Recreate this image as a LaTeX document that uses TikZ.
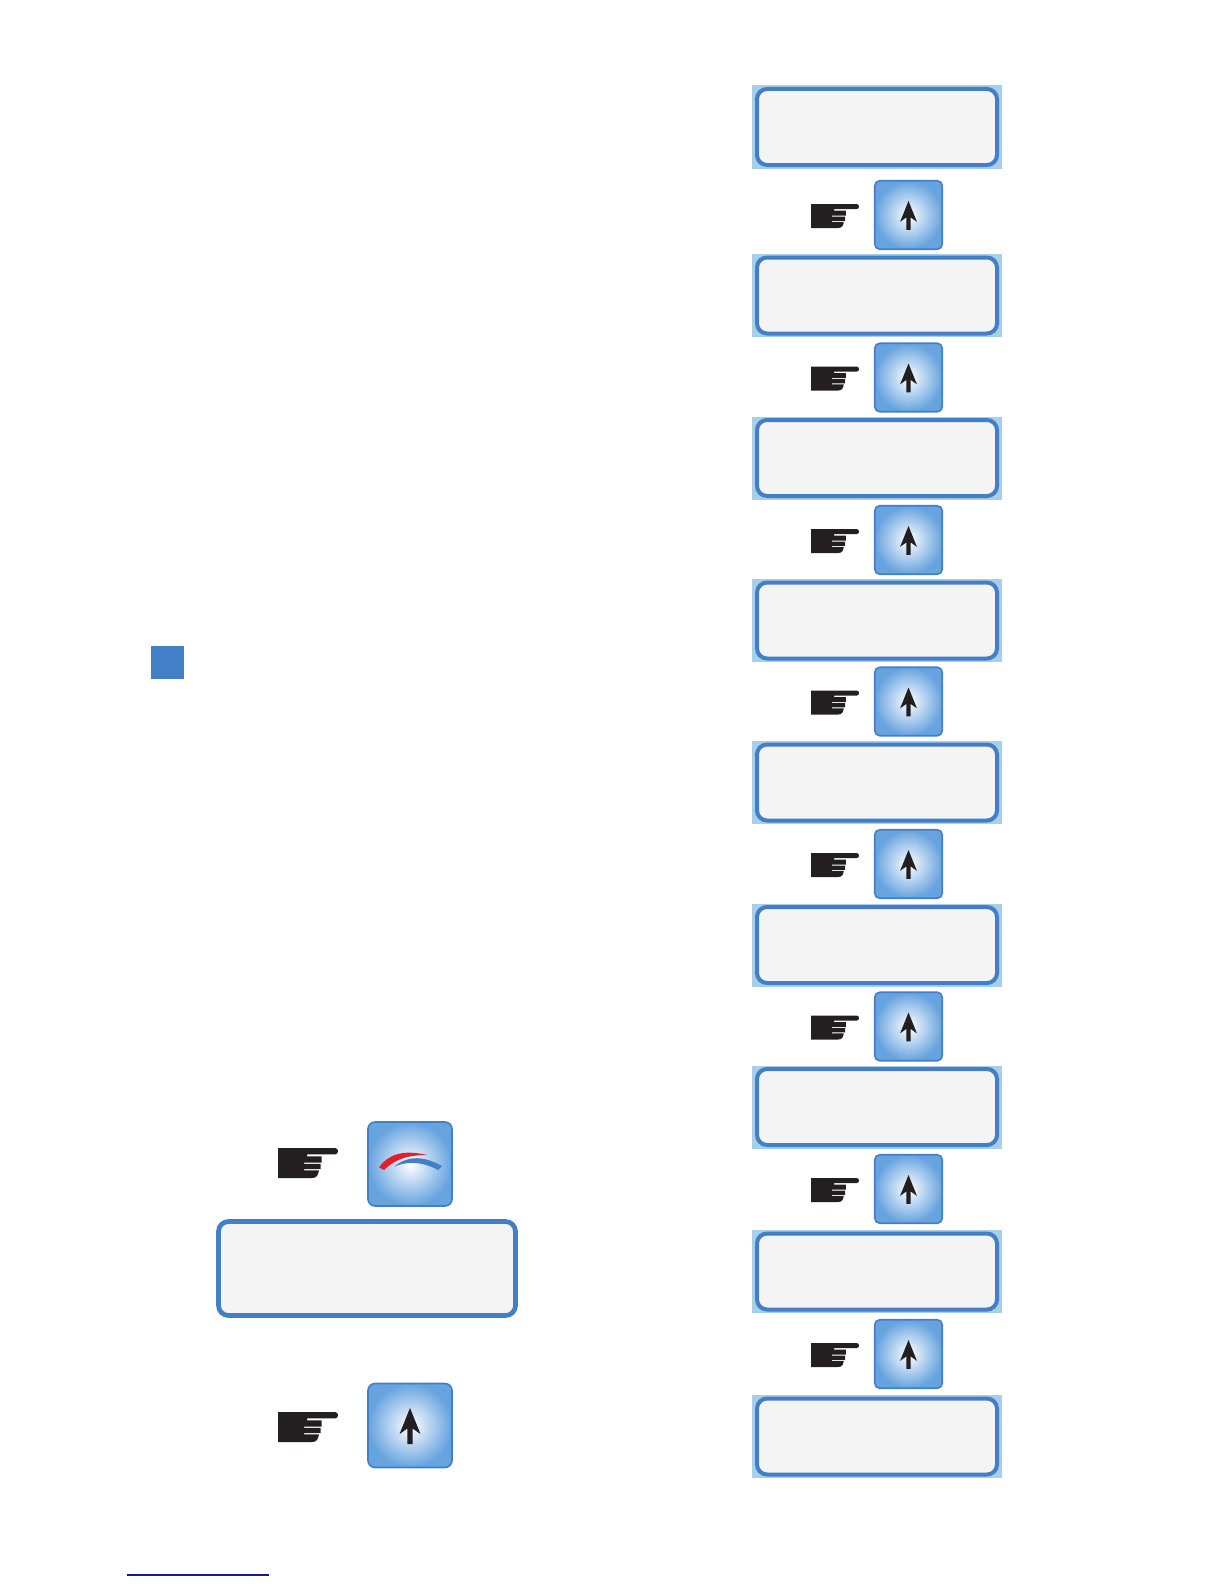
\documentclass[tikz,border=0pt]{standalone}
\usetikzlibrary{calc}
\definecolor{c1}{HTML}{231F20}
\definecolor{c2}{HTML}{437FC7}
\definecolor{c3}{HTML}{A8CFE9}
\definecolor{c4}{HTML}{F4F4F5}
\definecolor{c5}{HTML}{66A3DF}
\definecolor{c6}{HTML}{E31E2D}
\definecolor{linkcolor}{HTML}{1A1A8C}

\begin{document}
\begin{tikzpicture}[
    x=1pt, y=-1pt,
    lcdback/.style={rectangle, fill=c3, inner sep=0pt, minimum width=250pt, minimum height=83pt},
    lcd/.style={
        rectangle, rounded corners=10pt, draw=c2, fill=c4, line width=4pt,
        inner sep=0pt, minimum width=240pt, minimum height=76pt,
    },
    bigbtn/.style={
        rectangle, rounded corners=7pt, draw=c2, line width=1.6pt, inner sep=0pt,
        inner color=white, outer color=c5, minimum width=84pt, minimum height=84pt,
    },
    btn/.style={bigbtn, rounded corners=5pt, minimum width=67.5pt, minimum height=68.5pt},
    hand/.pic={
        \fill[c1] (0,0) -- (57,0) .. controls (61,0) and (61,6.4) .. (57,6.4) -- (29,6.4)
            -- (29,8.4) -- (43.5,8.4) -- (43.5,14.6) -- (26,14.6) -- (26,15.8) -- (42.5,15.8) -- (42.5,21.2) -- (26,21.2)
            -- (26,22.4) -- (41,22.4) .. controls (40,27) and (39,30) .. (34,30) -- (0,30) -- cycle;
    },
    uparrow/.pic={
        \fill[c1] (0,-17.5) -- (10.5,8.5) -- (2.6,3) -- (2.6,18.5) -- (-2.6,18.5) -- (-2.6,3) -- (-10.5,8.5) -- cycle;
    },
]
\useasboundingbox (0,0) rectangle (1224,1584);

% ================================================================ left: square and link
\node[rectangle, fill=c2, inner sep=0pt, minimum size=33pt] (mark) at (167.5, 662.5) {};
\coordinate (linkL) at (127, 1575);
\coordinate (linkR) at (269, 1575);
\draw[linkcolor, line width=1.2pt] (linkL) -- (linkR);

% ================================================================ left: two keys and a display
\node[bigbtn] (modekey) at (410, 1164) {};
\pic at (278, 1148) {hand};
\fill[c6] ($(modekey)+(-31,3.3)$) .. controls ($(modekey)+(-22,-9)$) and ($(modekey)+(-8,-15)$) .. ($(modekey)+(17,-9)$)
    .. controls ($(modekey)+(0,-9)$) and ($(modekey)+(-14,-6)$) .. ($(modekey)+(-26,6)$) -- cycle;
\fill[c2] ($(modekey)+(-16,2.7)$) .. controls ($(modekey)+(-2,-9)$) and ($(modekey)+(14,-8)$) .. ($(modekey)+(32,2)$)
    -- ($(modekey)+(28,6)$) .. controls ($(modekey)+(14,-1.5)$) and ($(modekey)+(0,-4)$) .. ($(modekey)+(-16,2.7)$) -- cycle;

\node[lcd, line width=4.7pt, minimum width=297pt, minimum height=94pt] (lcdmain) at (367, 1268.5) {};

\node[bigbtn] (upkey) at (410, 1425.5) {};
\pic at (278, 1412) {hand};
\pic at (upkey) {uparrow};

% ================================================================ right: column of displays
\foreach \i/\y in {1/127, 2/295.5, 3/458, 4/620.5, 5/782.5, 6/945, 7/1107, 8/1271.5, 9/1436.5}{
    \node[lcdback] (back\i) at (877, \y) {};
    \node[lcd] (lcd\i) at (877, \y) {};
}

\foreach \i/\y in {1/215, 2/377.5, 3/540, 4/701.5, 5/864, 6/1026.5, 7/1189, 8/1354}{
    \node[btn] (key\i) at (908.5, \y) {};
    \pic[scale=0.8] at (811, \y-11) {hand};
    \pic[scale=0.8] at (key\i) {uparrow};
}

\end{tikzpicture}
\end{document}
